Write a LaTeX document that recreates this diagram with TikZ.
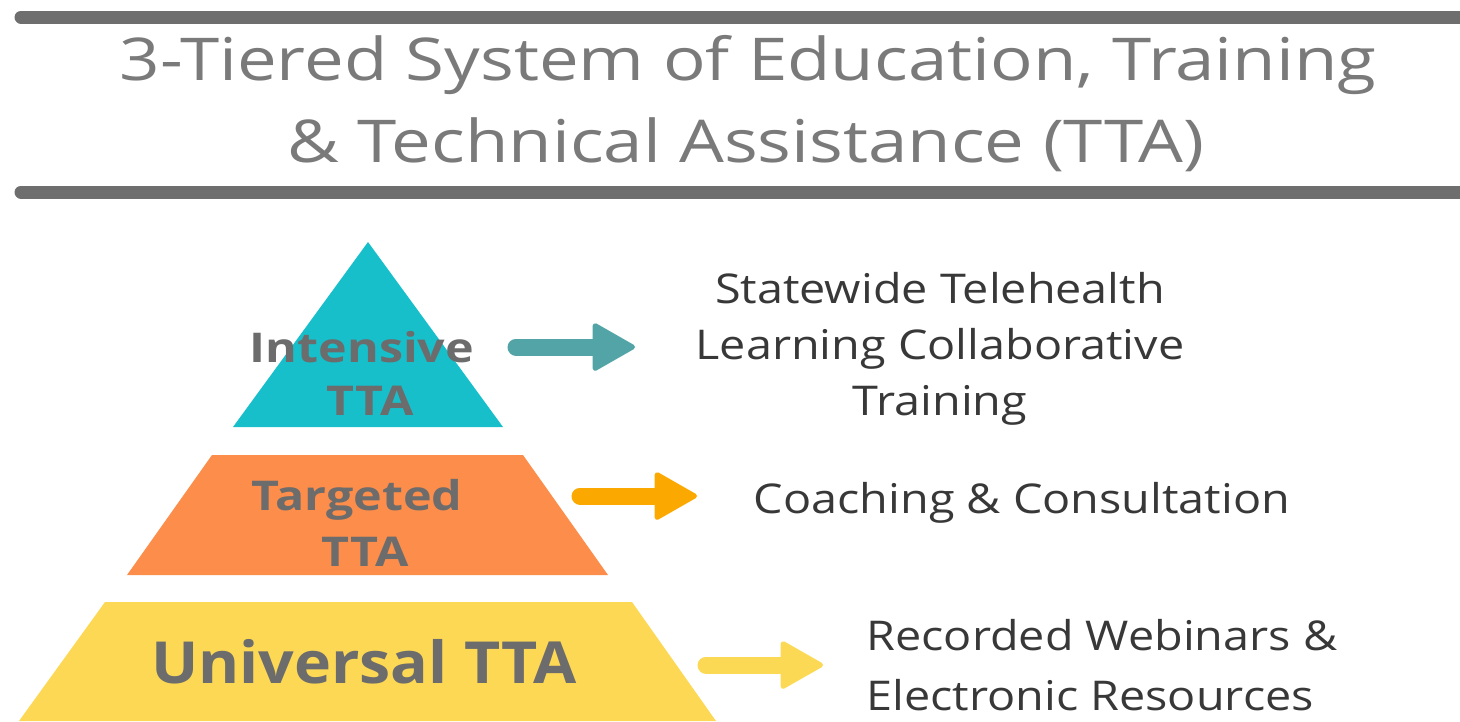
\documentclass[tikz,border=0pt]{standalone}
\usepackage{fontspec}
\setmainfont{Open Sans}
\newfontfamily\titlefont[FakeStretch=1.2]{Open Sans}
\newfontfamily\sidefont[FakeStretch=1.14]{Open Sans}
\newfontfamily\tierfont[FakeStretch=1.18]{Open Sans}
\newfontfamily\basefont[FakeStretch=1.08]{Open Sans}
\usepackage{xcolor}
\usetikzlibrary{arrows.meta}

\definecolor{rulegray}{HTML}{6E6E6E}
\definecolor{titlegray}{HTML}{7A7A7A}
\definecolor{labelgray}{HTML}{6C6C6C}
\definecolor{textgray}{HTML}{383838}
\definecolor{tealtier}{HTML}{17BFCA}
\definecolor{tealarrow}{HTML}{52A4A6}
\definecolor{orangetier}{HTML}{FD8D4A}
\definecolor{orangearrow}{HTML}{FBA900}
\definecolor{yellowtier}{HTML}{FDD855}
\definecolor{yellowarrow}{HTML}{FCD955}

\tikzset{
  hrule/.style={line width=13pt,rulegray,line cap=round},
  titletext/.style={anchor=base,titlegray,font=\titlefont\fontsize{59}{70}\selectfont},
  tierlabel/.style={anchor=base,labelgray,font=\tierfont\bfseries\fontsize{41}{48}\selectfont},
  sidetext/.style={anchor=base,textgray,font=\sidefont\fontsize{41}{48}\selectfont},
  pointer/.style={line width=17pt,line cap=round,
    -{Triangle[width=50pt,length=45pt,line width=5pt,round]}},
}

\begin{document}
\begin{tikzpicture}[x=1pt,y=-1pt]
  \useasboundingbox (0,0) rectangle (1460,721);
  % heading between two rules
  \draw[hrule] (21,17) -- (1480,17);
  \draw[hrule] (21,192) -- (1480,192);
  \node[titletext] (title1) at (748,80) {3-Tiered System of Education, Training};
  \node[titletext] (title2) at (746,162) {\& Technical Assistance (TTA)};

  % the three tiers
  \fill[tealtier] (368,242) -- (503,427) -- (233,427) -- cycle;
  \fill[orangetier] (212,455) -- (523,455) -- (608,575) -- (127,575) -- cycle;
  \fill[yellowtier] (105,602) -- (632,602) -- (716,721) -- (19,721) -- cycle;
  \node[tierlabel] (intensive) at (362,362) {Intensive};
  \node[tierlabel] (intensivetta) at (370,415) {TTA};
  \node[tierlabel] (targeted) at (357,510) {Targeted};
  \node[tierlabel] (targetedtta) at (365,566) {TTA};
  \node[tierlabel,font=\basefont\bfseries\fontsize{58}{64}\selectfont] (universal) at (364,683) {Universal TTA};

  % what each tier offers
  \node[sidetext] (state1) at (940,303) {Statewide Telehealth};
  \node[sidetext] (state2) at (940,359) {Learning Collaborative};
  \node[sidetext] (state3) at (940,415) {Training};
  \node[sidetext] (coach) at (1022,513) {Coaching \& Consultation};
  \node[sidetext,anchor=base west] (rec1) at (863,650) {Recorded Webinars \&};
  \node[sidetext,anchor=base west] (rec2) at (863,710) {Electronic Resources};

  % arrows
  \coordinate (a1) at (516,347);  \coordinate (b1) at (635,347);
  \coordinate (a2) at (580,496);  \coordinate (b2) at (697,496);
  \coordinate (a3) at (706,665);  \coordinate (b3) at (823,665);
  \draw[pointer,tealarrow] (a1) -- (b1);
  \draw[pointer,orangearrow] (a2) -- (b2);
  \draw[pointer,yellowarrow] (a3) -- (b3);
\end{tikzpicture}
\end{document}
